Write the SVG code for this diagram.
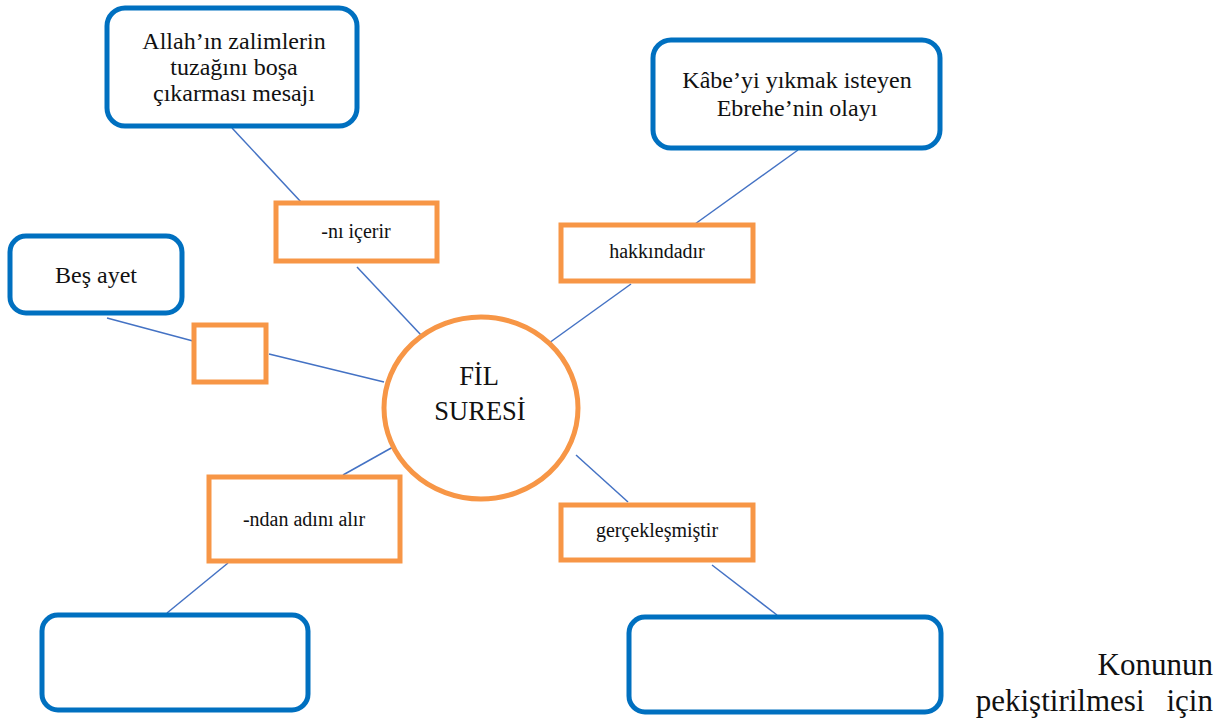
<svg xmlns="http://www.w3.org/2000/svg" width="1232" height="725" viewBox="0 0 1232 725">
<defs>
<style>
.blue{fill:#fff;stroke:#0070C0;stroke-width:5}
.org{fill:#fff;stroke:#F79646;stroke-width:5}
.ln{stroke:#4472C4;stroke-width:1.5;fill:none}
.t,.s,.c,.k{font-family:"Liberation Serif","Times New Roman",serif;fill:#111;text-anchor:middle}
.t{font-size:24px}
.s{font-size:20px}
.c{font-size:26.5px}
.k{font-size:31px;text-anchor:end}
</style>
</defs>
<rect width="1232" height="725" fill="#fff"/>
<g id="connectors">
<line class="ln" x1="232" y1="128" x2="301" y2="202"/>
<line class="ln" x1="357" y1="267" x2="421" y2="335"/>
<line class="ln" x1="798" y1="150" x2="695" y2="224"/>
<line class="ln" x1="631" y1="284" x2="549" y2="343"/>
<line class="ln" x1="107" y1="318" x2="193" y2="341"/>
<line class="ln" x1="269" y1="354" x2="384" y2="382"/>
<line class="ln" x1="393" y1="447" x2="343" y2="475"/>
<line class="ln" x1="228" y1="563" x2="167" y2="613"/>
<line class="ln" x1="576" y1="455" x2="628" y2="502"/>
<line class="ln" x1="712" y1="565" x2="777" y2="615"/>
</g>
<g id="center">
<ellipse class="org" cx="481" cy="408" rx="97" ry="91"/>
<text class="c" x="479" y="385">FİL</text>
<text class="c" x="480" y="420">SURESİ</text>
</g>
<g id="n-allah">
<rect class="blue" x="107" y="8" width="250" height="118" rx="18"/>
<text class="t" x="234" y="49">Allah’ın zalimlerin</text>
<text class="t" x="234" y="75">tuzağını boşa</text>
<text class="t" x="234" y="101">çıkarması mesajı</text>
</g>
<g id="n-kabe">
<rect class="blue" x="653" y="40" width="287" height="108" rx="18"/>
<text class="t" x="797" y="88">Kâbe’yi yıkmak isteyen</text>
<text class="t" x="797" y="116">Ebrehe’nin olayı</text>
</g>
<g id="n-bes">
<rect class="blue" x="10" y="236" width="172" height="77" rx="16"/>
<text class="t" x="96" y="283">Beş ayet</text>
</g>
<g id="n-bl">
<rect class="blue" x="42" y="615" width="266" height="95" rx="16"/>
</g>
<g id="n-br">
<rect class="blue" x="629" y="617" width="312" height="95" rx="16"/>
</g>
<g id="l-icerir">
<rect class="org" x="276" y="203" width="161" height="58"/>
<text class="s" x="356" y="238">-nı içerir</text>
</g>
<g id="l-hakkinda">
<rect class="org" x="561" y="225" width="192" height="56"/>
<text class="s" x="657" y="258">hakkındadır</text>
</g>
<g id="l-empty">
<rect class="org" x="194" y="325" width="72" height="57"/>
</g>
<g id="l-ndan">
<rect class="org" x="209" y="477" width="191" height="84"/>
<text class="s" x="304" y="526">-ndan adını alır</text>
</g>
<g id="l-gercek">
<rect class="org" x="561" y="505" width="192" height="55"/>
<text class="s" x="657" y="537">gerçekleşmiştir</text>
</g>
<g id="footer">
<text class="k" x="1213" y="675">Konunun</text>
<text class="k" x="1213" y="711">pekiştirilmesi<tspan dx="22">için</tspan></text>
</g>
</svg>
